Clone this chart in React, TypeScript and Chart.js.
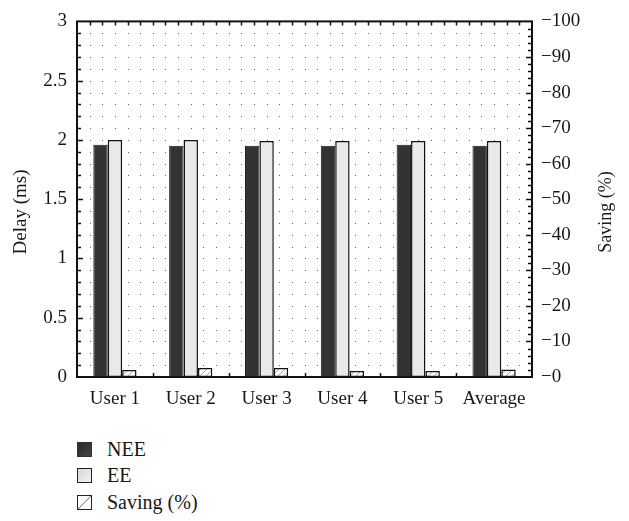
import React, { useEffect, useRef } from "react";
import { Chart, registerables } from "chart.js";

Chart.register(...registerables);

const categories = ["User 1", "User 2", "User 3", "User 4", "User 5", "Average"];
const neeDelay = [1.96, 1.95, 1.95, 1.95, 1.96, 1.95];
const eeDelay = [2.0, 2.0, 1.99, 1.99, 1.99, 1.99];
const savingPct = [2.0, 2.5, 2.5, 1.7, 1.7, 2.1];
const legendLabels = ["NEE", "EE", "Saving (%)"];
const delayTitle = "Delay (ms)";
const savingTitle = "Saving (%)";

const FONT = "Liberation Serif, serif";
const INK = "#1a1718";

function makeHatch(): CanvasPattern | string {
  const c = document.createElement("canvas");
  c.width = 6;
  c.height = 6;
  const g = c.getContext("2d");
  if (!g) return "#fff";
  g.fillStyle = "#ffffff";
  g.fillRect(0, 0, 6, 6);
  g.strokeStyle = "#a0a0a0";
  g.lineWidth = 1;
  g.beginPath();
  g.moveTo(0, 6);
  g.lineTo(6, 0);
  g.moveTo(-1, 1);
  g.lineTo(1, -1);
  g.moveTo(5, 7);
  g.lineTo(7, 5);
  g.stroke();
  const p = g.createPattern(c, "repeat");
  return p || "#fff";
}

const framePlugin = {
  id: "framePlugin",
  beforeDatasetsDraw(chart: any) {
    const { ctx, chartArea } = chart;
    const y = chart.scales.y;
    const { left, right } = chartArea;
    const w = right - left;
    ctx.save();
    ctx.fillStyle = "#666";
    for (let i = 1; i < 30; i++) {
      const py = Math.round(y.getPixelForValue(i / 10));
      for (let j = 1; j < 36; j++) {
        const px = Math.round(left + (j * w) / 36);
        ctx.fillRect(px, py, 1, 1);
      }
    }
    ctx.restore();
  },
  afterDatasetsDraw(chart: any) {
    const { ctx, chartArea } = chart;
    const y = chart.scales.y;
    const y2 = chart.scales.y2;
    const { left, right, top, bottom } = chartArea;
    const w = right - left;
    ctx.save();
    ctx.strokeStyle = "#111";
    ctx.lineWidth = 1.5;
    ctx.beginPath();
    for (let i = 1; i < 30; i++) {
      const py = Math.round(y.getPixelForValue(i / 10)) + 0.5;
      const len = i % 5 === 0 ? 6 : 4;
      ctx.moveTo(left, py);
      ctx.lineTo(left + len, py);
    }
    for (let k = 2; k < 100; k += 2) {
      const py = Math.round(y2.getPixelForValue(k)) + 0.5;
      const len = k % 10 === 0 ? 6 : 4;
      ctx.moveTo(right, py);
      ctx.lineTo(right - len, py);
    }
    for (let j = 1; j < 36; j++) {
      const px = Math.round(left + (j * w) / 36) + 0.5;
      ctx.moveTo(px, top);
      ctx.lineTo(px, top + 4);
    }
    for (let j = 1; j < 6; j++) {
      const px = Math.round(left + (j * w) / 6) + 0.5;
      ctx.moveTo(px, bottom);
      ctx.lineTo(px, bottom - 4);
    }
    ctx.stroke();
    ctx.lineWidth = 2;
    ctx.strokeRect(left, top, w, bottom - top);
    const mid = 212;
    ctx.fillStyle = INK;
    ctx.textAlign = "center";
    ctx.textBaseline = "middle";
    ctx.font = `19px ${FONT}`;
    ctx.translate(21, mid);
    ctx.rotate(-Math.PI / 2);
    ctx.fillText(delayTitle, 0, 0);
    ctx.rotate(Math.PI / 2);
    ctx.translate(-21, -mid);
    ctx.font = `18px ${FONT}`;
    ctx.translate(606, mid);
    ctx.rotate(-Math.PI / 2);
    ctx.fillText(savingTitle, 0, 0);
    ctx.restore();
  },
};

function LegendBox({ kind }: { kind: number }) {
  const base: React.CSSProperties = {
    display: "inline-block",
    width: 15,
    height: 15,
    border: "1px solid #222",
    marginRight: 15,
    boxSizing: "border-box",
    flex: "0 0 auto",
  };
  if (kind === 0) {
    base.background = "linear-gradient(135deg, #2a2a2a, #444)";
    base.border = "1px solid #333";
  }
  if (kind === 1) base.background = "linear-gradient(135deg, #d8d8d8, #f2f2f2)";
  if (kind === 2)
    base.background =
      "linear-gradient(to bottom right, #fff 0%, #fff 46%, #888 47%, #888 53%, #fff 54%, #fff 100%)";
  return <span style={base} />;
}

export default function App() {
  const ref = useRef<HTMLCanvasElement | null>(null);
  useEffect(() => {
    if (!ref.current) return;
    const hatch = makeHatch();
    const chart = new Chart(ref.current, {
      type: "bar",
      data: {
        labels: categories,
        datasets: [
          {
            label: legendLabels[0],
            data: neeDelay,
            yAxisID: "y",
            backgroundColor: "#333333",
            borderColor: "#1c1c1c",
            borderWidth: 1,
            borderSkipped: false,
          },
          {
            label: legendLabels[1],
            data: eeDelay,
            yAxisID: "y",
            backgroundColor: "#e9e9e9",
            borderColor: "#111",
            borderWidth: 1.5,
            borderSkipped: false,
          },
          {
            label: legendLabels[2],
            data: savingPct,
            yAxisID: "y2",
            backgroundColor: hatch as any,
            borderColor: "#111",
            borderWidth: 1.5,
            borderSkipped: false,
          },
        ],
      },
      options: {
        responsive: false,
        animation: false,
        layout: { padding: { top: 16, left: 0, right: 0, bottom: 0 } },
        datasets: { bar: { categoryPercentage: 0.57, barPercentage: 1.0 } } as any,
        plugins: { legend: { display: false }, tooltip: { enabled: false } },
        scales: {
          x: {
            grid: { display: false },
            border: { display: false },
            ticks: { color: INK, font: { family: FONT, size: 19 }, padding: 3 },
            afterFit: (s: any) => {
              s.height = 410 - 377;
            },
          },
          y: {
            position: "left",
            min: 0,
            max: 3,
            grid: { display: false, drawTicks: false },
            border: { display: false },
            ticks: {
              stepSize: 0.5,
              color: INK,
              padding: 10,
              font: { family: FONT, size: 19 },
              callback: (v: any) => String(v),
            },
            afterFit: (s: any) => {
              s.width = 77;
            },
          },
          y2: {
            position: "right",
            min: 0,
            max: 100,
            grid: { display: false, drawTicks: false },
            border: { display: false },
            ticks: {
              stepSize: 10,
              color: INK,
              padding: 9,
              font: { family: FONT, size: 19 },
              callback: (v: any) => "\u2212" + v,
            },
            afterFit: (s: any) => {
              s.width = 629 - 532;
            },
          },
        },
      },
      plugins: [framePlugin],
    });
    return () => {
      chart.destroy();
    };
  }, []);

  return (
    <div style={{ position: "absolute", left: 0, top: 0, width: 629, height: 521 }}>
      <canvas ref={ref} width={629} height={410} style={{ display: "block" }} />
      <div
        style={{
          position: "absolute",
          left: 77,
          top: 436,
          fontFamily: FONT,
          fontSize: 20,
          color: INK,
        }}
      >
        {legendLabels.map((t, i) => (
          <div
            key={t}
            style={{ height: 26.5, display: "flex", alignItems: "center", whiteSpace: "nowrap" }}
          >
            <LegendBox kind={i} />
            <span>{t}</span>
          </div>
        ))}
      </div>
    </div>
  );
}
